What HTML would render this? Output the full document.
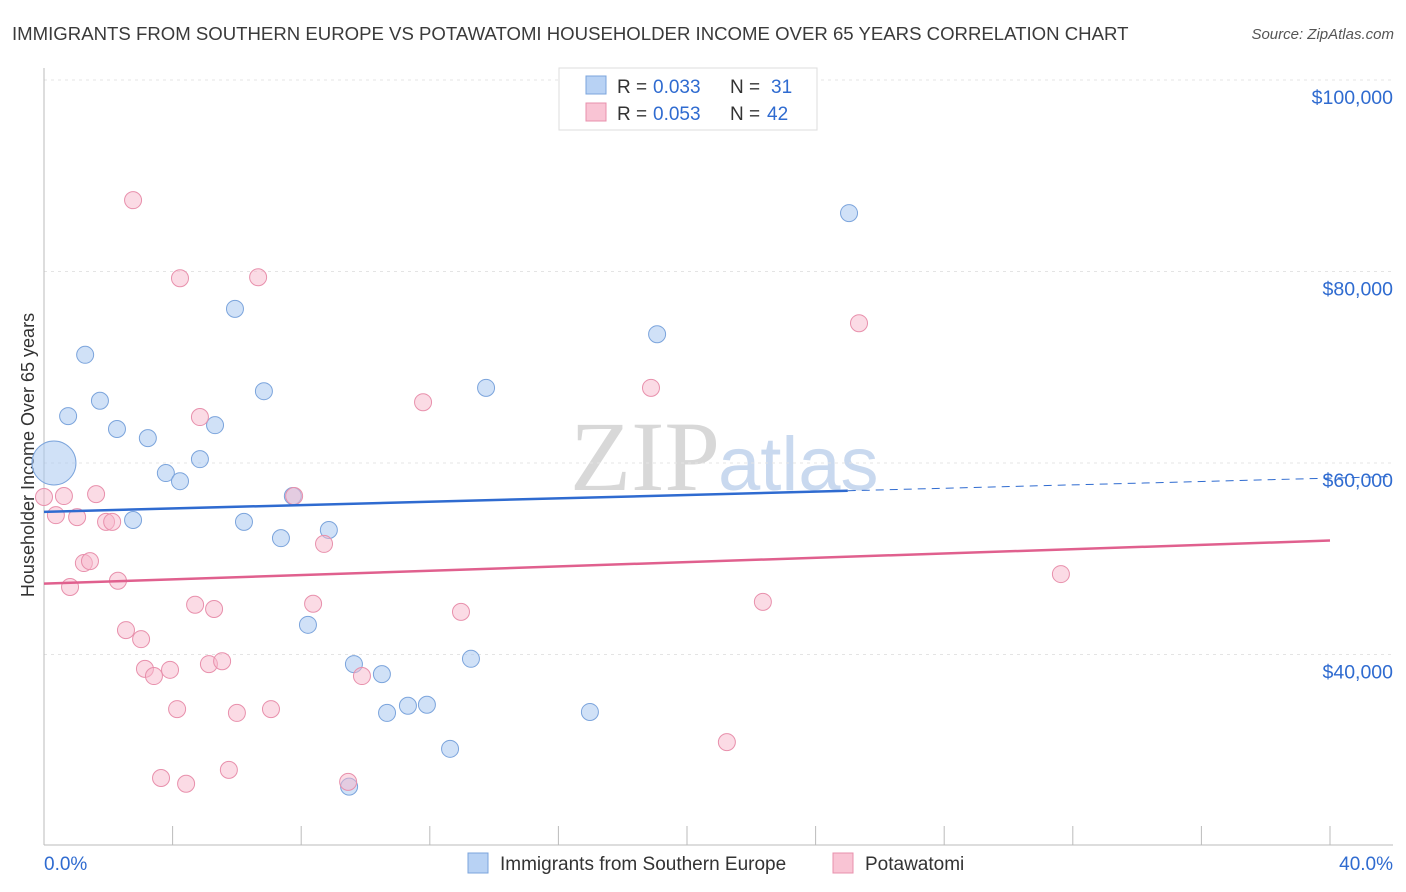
<!DOCTYPE html>
<html><head><meta charset="utf-8"><style>
body{margin:0;background:#fff;font-family:"Liberation Sans",sans-serif;}
svg{display:block}
</style></head><body>
<svg id="c" width="1406" height="892">
<text x="12" y="40" font-size="18.6" fill="#3a3a3a">IMMIGRANTS FROM SOUTHERN EUROPE VS POTAWATOMI HOUSEHOLDER INCOME OVER 65 YEARS CORRELATION CHART</text>
<text x="1394" y="39" font-size="15" fill="#555" font-style="italic" text-anchor="end">Source: ZipAtlas.com</text>
<text x="720" y="490" font-size="100" fill="#d8d8d8" text-anchor="end" font-family="Liberation Serif">ZIP</text>
<text x="718" y="490" font-size="76" fill="#c9d9ef">atlas</text>
<text transform="translate(34,455) rotate(-90)" font-size="18" fill="#333" text-anchor="middle">Householder Income Over 65 years</text>
<g id="grid"></g><g id="pts"></g><g id="lines"></g>
<g>
<rect x="559" y="68" width="258" height="62" fill="#fff" stroke="#ddd"/>
<rect x="586" y="76" width="20" height="18" fill="#b8d2f4" stroke="#7ba4dc"/>
<text x="617" y="93" font-size="19" fill="#333">R =</text>
<text x="653" y="93" font-size="19" fill="#2f6bd0">0.033</text>
<text x="730" y="93" font-size="19" fill="#333">N =</text>
<text x="771" y="93" font-size="19" fill="#2f6bd0">31</text>
<rect x="586" y="103" width="20" height="18" fill="#f9c4d4" stroke="#e890ac"/>
<text x="617" y="120" font-size="19" fill="#333">R =</text>
<text x="653" y="120" font-size="19" fill="#2f6bd0">0.053</text>
<text x="730" y="120" font-size="19" fill="#333">N =</text>
<text x="767" y="120" font-size="19" fill="#2f6bd0">42</text>
</g>
<g>
<rect x="468" y="853" width="20" height="20" fill="#b8d2f4" stroke="#7ba4dc"/>
<text x="500" y="870" font-size="19" fill="#333">Immigrants from Southern Europe</text>
<rect x="833" y="853" width="20" height="20" fill="#f9c4d4" stroke="#e890ac"/>
<text x="865" y="870" font-size="19" fill="#333">Potawatomi</text>
</g>
<text x="44" y="870" font-size="19" fill="#2f6bd0">0.0%</text>
<text x="1393" y="870" font-size="19" fill="#2f6bd0" text-anchor="end">40.0%</text>
</svg>
<script>
const yTicks=[40000,60000,80000,100000];
const yTickLabels=["$40,000","$60,000","$80,000","$100,000"];
const blueX=[0.31,0.75,1.28,1.74,2.27,2.77,3.23,3.79,4.23,4.85,5.32,5.94,6.22,6.84,7.37,7.74,8.21,8.86,9.49,9.64,10.51,10.67,11.32,11.91,12.63,13.28,13.75,16.98,19.07,25.04];
const blueY=[60000,64900,71300,66500,63550,54050,62600,58950,58100,60400,63950,76100,53850,67500,52150,56550,43100,53000,26200,39000,37950,33900,34650,34750,30150,39550,67850,34000,73450,86100];
const pinkX=[0,0.37,0.62,0.81,1.03,1.24,1.43,1.62,1.93,2.12,2.30,2.55,2.77,3.02,3.14,3.42,3.64,3.92,4.14,4.23,4.42,4.70,4.85,5.13,5.29,5.54,5.75,6.00,6.66,7.06,7.78,8.37,8.71,9.46,9.89,11.79,12.97,18.88,21.24,22.36,25.35,31.63];
const pinkY=[56450,54550,56550,47050,54350,49550,49750,56750,53850,53850,47700,42550,87450,41600,38500,37750,27100,38400,34300,79300,26500,45200,64800,39000,44750,39300,27950,33900,79400,34300,56550,45300,51550,26700,37750,66350,44450,67850,30850,45500,74600,48400];
const blueTrend=[54900,57100];const pinkTrend=[47400,51900];
const NS="http://www.w3.org/2000/svg";
const xs=p=>44+p*32.15, ys=v=>463-(v-60000)*191.5/20000;
function mk(t,a,par){const e=document.createElementNS(NS,t);for(const k in a)e.setAttribute(k,a[k]);document.getElementById(par).appendChild(e);return e;}
yTicks.forEach((v,i)=>{
 const l=mk('line',{x1:44,x2:1393,y1:ys(v),y2:ys(v),stroke:'#e4e4e4','stroke-dasharray':'3,4'},'grid');
 
 
 const t=mk('text',{x:1393,y:ys(v)+24,'font-size':19.5,fill:'#2f6bd0','text-anchor':'end'},'grid');t.textContent=yTickLabels[i];
 
 
});
const ax=mk('line',{x1:44,x2:1393,y1:845,y2:845,stroke:'#bbb'},'grid');


const ay=mk('line',{x1:44,x2:44,y1:68,y2:845,stroke:'#bbb'},'grid');


for(let p=0;p<=40;p+=4){const t=mk('line',{x1:xs(p),x2:xs(p),y1:826,y2:845,stroke:'#bbb'},'grid');
 
 }
blueX.forEach((x,i)=>{const c=mk('circle',{cx:xs(x),cy:ys(blueY[i]),r:i==0?22:8.5,fill:'rgba(170,200,240,0.55)',stroke:'#7ba4dc','stroke-width':1},'pts');
 
 });
pinkX.forEach((x,i)=>{const c=mk('circle',{cx:xs(x),cy:ys(pinkY[i]),r:8.5,fill:'rgba(247,184,204,0.5)',stroke:'#e890ac','stroke-width':1},'pts');
 
 });
const bs=(blueTrend[1]-blueTrend[0])/25;
const bl=mk('line',{x1:xs(0),y1:ys(blueTrend[0]),x2:xs(25),y2:ys(blueTrend[1]),stroke:'#2f6bd0','stroke-width':2.5},'lines');


const bd=mk('line',{x1:xs(25),y1:ys(blueTrend[1]),x2:1393,y2:ys(blueTrend[0]+bs*((1393-44)/32.15)),stroke:'#2f6bd0','stroke-width':1,'stroke-dasharray':'8,6'},'lines');


const pl=mk('line',{x1:xs(0),y1:ys(pinkTrend[0]),x2:xs(40),y2:ys(pinkTrend[1]),stroke:'#e0608e','stroke-width':2.5},'lines');


</script>
</body></html>
